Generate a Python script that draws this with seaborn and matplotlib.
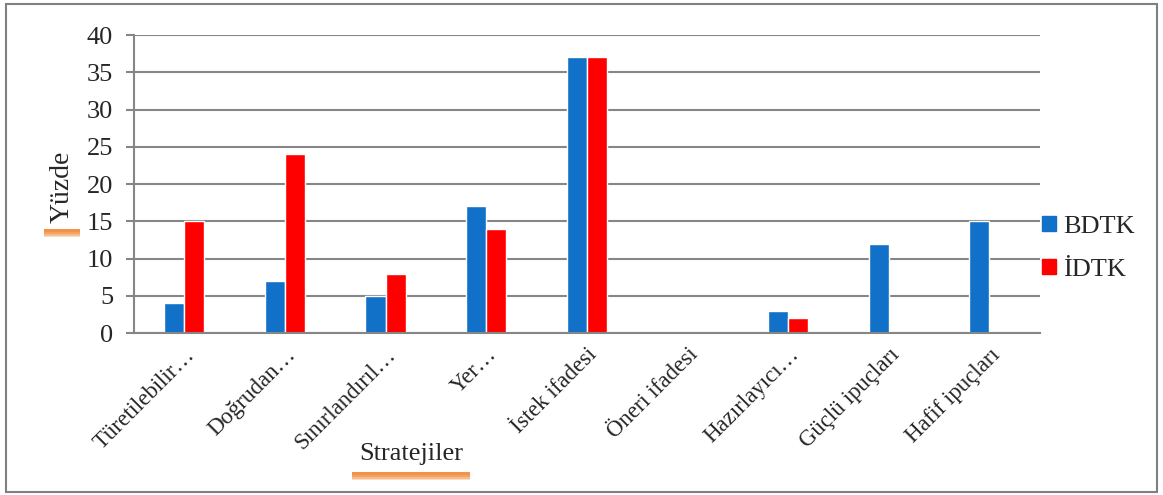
import matplotlib.pyplot as plt
import matplotlib.patheffects as pe
from matplotlib.patches import Rectangle
import pandas as pd
import seaborn as sns

sns.set_theme(style="white")
plt.rcParams['font.family'] = ['Liberation Serif', 'DejaVu Serif']

# data
strategies = ['Türetilebilir…', 'Doğrudan…', 'Sınırlandırıl…', 'Yer…', 'İstek ifadesi',
              'Öneri ifadesi', 'Hazırlayıcı…', 'Güçlü ipuçları', 'Hafif ipuçları']
bdtk = [4, 7, 5, 17, 37, 0, 3, 12, 15]
idtk = [15, 24, 8, 14, 37, 0, 2, 0, 0]
series = ['BDTK', 'İDTK']
colors = {'BDTK': '#1170C8', 'İDTK': '#FF0000'}

df = pd.DataFrame({
    'Strateji': strategies * 2,
    'Yüzde': bdtk + idtk,
    'Grup': [series[0]] * len(bdtk) + [series[1]] * len(idtk),
})

fig = plt.figure(figsize=(11.63, 4.95), dpi=100)
ax = fig.add_axes([0.1152, 0.327, 0.7788, 0.602])

sns.barplot(data=df, x='Strateji', y='Yüzde', hue='Grup', palette=colors,
            width=0.4, saturation=1, ax=ax, legend=False)

grid_col = '#868686'
ax.set_ylim(0, 40)
ax.set_yticks(range(0, 41, 5))
ax.set_axisbelow(True)
ax.yaxis.grid(True, color=grid_col, linewidth=1.5)
ax.xaxis.grid(False)
for side in ['top', 'right']:
    ax.spines[side].set_visible(False)
for side in ['left', 'bottom']:
    ax.spines[side].set_color(grid_col)
    ax.spines[side].set_linewidth(1.5)

ax.tick_params(axis='y', length=6, width=1.5, color=grid_col, pad=9, labelsize=19, left=True)
ax.tick_params(axis='x', length=0, pad=8, labelsize=16.5)
ax.set_xticks(range(len(strategies)))
ax.set_xticklabels(strategies, rotation=45, ha='right', rotation_mode='anchor')
ax.set_xlabel('')
ax.set_ylabel('')

handles = [Rectangle((0, 0), 1, 1, color=colors[s]) for s in series]
ax.legend(handles, series, loc='center left', bbox_to_anchor=(1.0, 0.285),
          frameon=False, fontsize=19, handlelength=0.5, handleheight=0.5,
          handletextpad=0.3, labelspacing=0.8, borderaxespad=0, borderpad=0.1)

# axis titles in white boxes with a soft orange shadow under them
shadow = [pe.SimplePatchShadow(offset=(0, -6), shadow_rgbFace='#F9D2AE', alpha=0.7),
          pe.SimplePatchShadow(offset=(0, -5), shadow_rgbFace='#F6B47A', alpha=0.8),
          pe.SimplePatchShadow(offset=(0, -4), shadow_rgbFace='#F4A060', alpha=0.9),
          pe.SimplePatchShadow(offset=(0, -2.5), shadow_rgbFace='#F39347', alpha=1.0),
          pe.Normal()]
t1 = fig.text(62 / 1163, 1 - 187 / 495, 'Yüzde', rotation=90, fontsize=20,
              ha='center', va='center',
              bbox=dict(boxstyle='square,pad=0.2', facecolor='white', edgecolor='none'))
t1.get_bbox_patch().set_path_effects(shadow)
t2 = fig.text(411 / 1163, 1 - 454 / 495, 'Stratejiler', fontsize=19,
              ha='center', va='center',
              bbox=dict(boxstyle='square,pad=0.25', facecolor='white', edgecolor='none'))
t2.get_bbox_patch().set_path_effects(shadow)

# outer chart border
fig.patches.append(Rectangle((0.005, 0.006), 0.99, 0.986, transform=fig.transFigure,
                             fill=False, edgecolor='#808080', linewidth=1.5))

plt.savefig('out.png', dpi=100)
